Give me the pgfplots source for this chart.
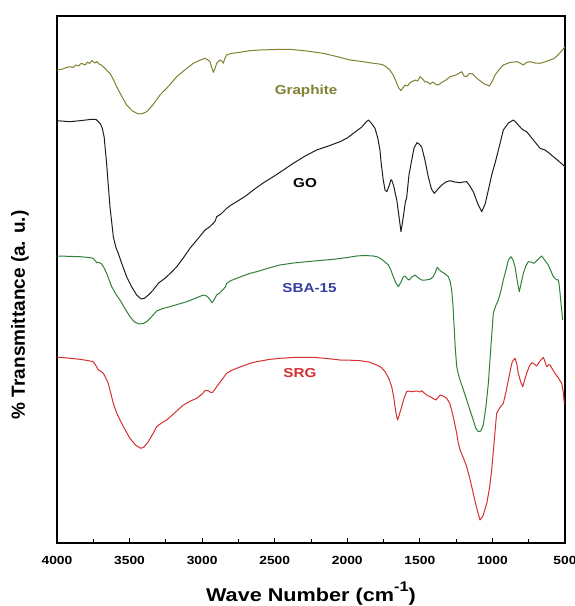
\documentclass[border=0pt]{standalone}
\usepackage{fontspec}
\setmainfont{Liberation Sans}[FakeStretch=1.17]
\newfontfamily\ylfont{Liberation Sans}
\usepackage{pgfplots}
\pgfplotsset{compat=1.18}

\definecolor{graphitecol}{RGB}{128,128,48}
\definecolor{gocol}{RGB}{30,30,30}
\definecolor{sbacol}{RGB}{48,128,58}
\definecolor{sbalabel}{RGB}{52,62,160}
\definecolor{srgcol}{RGB}{212,48,48}

\begin{document}
\begin{tikzpicture}
\useasboundingbox (-57pt,-63pt) rectangle (517pt,543pt);
\begin{axis}[
  scale only axis, width=508pt, height=527pt,
  xmin=500, xmax=4000, x dir=reverse,
  ymin=57, ymax=584,
  xtick={500,1000,...,4000}, minor x tick num=1,
  ytick=\empty, xtick pos=left,
  tick align=inside,
  major tick length=5pt, minor tick length=4pt,
  every tick/.style={black, line width=0.8pt},
  axis line style={line width=1.2pt},
  /pgf/number format/assume math mode=true,
  /pgf/number format/1000 sep={},
  xticklabel style={font=\fontsize{11.8}{12}\selectfont\bfseries, yshift=-9.5pt},
  xlabel={Wave Number (cm\raisebox{0.55em}{\fontsize{14}{14}\selectfont -1})},
  xlabel style={font=\fontsize{18.5}{20}\selectfont\bfseries,
    at={(axis description cs:0.5,-0.111)}, anchor=base},
  ylabel={\% Transmittance (a. u.)},
  ylabel style={font=\ylfont\fontsize{19}{20}\selectfont\bfseries,
    at={(axis description cs:-0.0728,0.433)}, anchor=center},
  every axis plot/.append style={line width=1pt, line join=round},
]
% Graphite
\addplot[graphitecol, mark=none] coordinates {
(4000,530) (3960,531) (3935,532.5) (3910,533.3) (3890,532.5) (3870,535) (3850,534)
(3835,536.5) (3819,536) (3805,535) (3790,538) (3775,536.5) (3760,539.5) (3750,538.3)
(3738,537) (3725,538.5) (3710,536) (3695,535) (3681,533.3) (3665,531) (3650,528.5)
(3635,526.7) (3610,520) (3589,513.3) (3555,504) (3520,495) (3480,489) (3440,486)
(3410,486.5) (3382,488.3) (3340,495) (3290,505) (3230,514) (3175,523.3) (3120,530)
(3061,536.7) (3020,539.5) (2980,541.7) (2955,539.5) (2946,538.3) (2935,533) (2923,527.7)
(2910,532) (2900,536.7) (2885,539) (2872,540) (2860,538) (2854,536.7) (2845,541)
(2831,545) (2800,546.5) (2762,547.3) (2670,549.3) (2601,550) (2500,550.5) (2395,550.7)
(2280,549) (2165,546.7) (2060,543) (1981,540) (1900,538.5) (1821,536.7) (1780,536)
(1752,535) (1730,533) (1706,530) (1680,524) (1659,516.7) (1645,512) (1630,509.3)
(1615,512.5) (1602,515) (1585,514) (1570,517) (1556,518.3) (1530,520) (1515,519)
(1499,523.3) (1480,521) (1465,518) (1453,518.3) (1430,516) (1410,518) (1390,515.5)
(1373,515) (1350,517.5) (1320,520) (1292,523.3) (1250,525) (1212,528.3) (1195,524)
(1177,523.3) (1160,526.5) (1136,526) (1110,522) (1086,519.3) (1055,516) (1021,514)
(1000,519) (982,525) (950,531) (925,535) (880,537.5) (833,538.3) (810,537) (787,535)
(765,537.5) (741,538.3) (705,537) (672,536.7) (640,538) (603,540) (575,541.5)
(555,544) (530,548) (500,553)
};
% GO
\addplot[gocol, mark=none] coordinates {
(4000,479.3) (3910,478.3) (3842,479.3) (3761,480.7) (3730,480.5) (3715,478.3) (3700,476)
(3688,471.7) (3675,463) (3669,453.3) (3660,440) (3653,426.7) (3635,393.3) (3612,363.3)
(3595,353) (3578,346.7) (3550,335) (3520,323.3) (3485,313) (3451,305) (3420,301)
(3398,301.7) (3370,305) (3337,310) (3300,317) (3256,321.7) (3210,328) (3175,333.3)
(3130,342) (3084,351.7) (3030,361) (2980,370) (2950,373) (2923,376.7) (2910,379)
(2900,383.3) (2870,386) (2831,391.7) (2800,395) (2762,398.3) (2700,404) (2647,410)
(2580,417) (2510,423.3) (2440,430) (2372,436.7) (2290,444) (2211,450) (2130,454)
(2050,458.3) (2000,462) (1958,466.7) (1900,473) (1870,478) (1855,480) (1835,477)
(1809,471.7) (1790,462) (1775,450) (1765,435) (1752,420) (1740,410) (1728,408.3)
(1712,414) (1700,420) (1694,420) (1680,414) (1667,405) (1659,400) (1645,385)
(1630,368.3) (1615,382) (1600,398) (1591,402) (1575,425) (1556,440) (1540,452)
(1520,457.3) (1505,456) (1487,453) (1465,440) (1442,423.3) (1420,411) (1400,406.7)
(1375,411) (1349,415) (1320,418) (1292,419.3) (1260,418) (1223,417.3) (1200,418)
(1177,418.3) (1155,414) (1132,408.3) (1100,396) (1074,388.3) (1050,396) (1028,410)
(1005,425) (982,436.7) (950,455) (925,470) (890,477) (856,480) (840,478) (822,475)
(800,471.5) (787,470) (764,468.3) (740,464) (718,460) (690,455) (672,451.7) (638,450)
(610,447) (580,443.3) (540,438.5) (500,433.3)
};
% SBA-15
\addplot[sbacol, mark=none] coordinates {
(4000,344) (3991,344) (3842,343.3) (3780,342.5) (3750,341.7) (3735,339) (3726,337.3)
(3710,337.5) (3692,336) (3675,332) (3658,326.7) (3623,313.3) (3595,306) (3566,300)
(3530,291) (3497,283.3) (3465,278) (3433,276) (3405,276.5) (3382,278.3) (3350,283)
(3313,289) (3270,291.5) (3221,293.3) (3160,296) (3106,298.3) (3050,301.5) (2992,305)
(2970,304) (2958,302.7) (2945,300) (2930,297.3) (2915,301) (2900,305) (2875,307.5)
(2854,310.7) (2840,313) (2831,316.7) (2800,319.5) (2762,321.7) (2670,326.7)
(2624,328.3) (2540,332) (2464,335) (2370,337) (2280,338.3) (2190,339.5) (2096,340.7)
(2000,342.5) (1935,344) (1880,344.5) (1821,344) (1790,343) (1763,340.7) (1740,338)
(1717,335) (1700,330) (1683,323.3) (1665,317) (1648,313.3) (1630,318) (1615,323)
(1602,324) (1585,321) (1573,320) (1555,323) (1533,325) (1510,322) (1487,320)
(1460,320) (1430,320.7) (1410,323) (1396,326.7) (1380,332.7) (1365,330) (1349,328.3)
(1325,326) (1304,323.3) (1290,318) (1281,310) (1272,295) (1265,276.7) (1256,252)
(1246,233.3) (1235,226) (1223,220) (1200,210) (1177,200) (1155,190) (1132,180)
(1115,172) (1097,168.3) (1080,169) (1063,175) (1045,193) (1028,216.7) (1012,250)
(994,286.7) (975,295) (959,300) (940,310) (925,320) (905,331) (890,340) (872,343.3)
(858,340) (844,333.3) (830,320) (815,308.3) (800,318) (787,326.7) (770,334)
(753,338.3) (735,338) (714,336.7) (690,340) (661,344) (640,340) (615,335) (597,329)
(580,323.3) (560,320.5) (546,320) (540,315) (534,306.7) (525,293) (516,280)
};
% SRG
\addplot[srgcol, mark=none] coordinates {
(4000,242.7) (3979,242.7) (3842,240.7) (3790,239.5) (3750,238.3) (3730,234) (3715,230)
(3700,229) (3681,226.7) (3665,222.5) (3647,216.7) (3630,207) (3612,196.7) (3590,187.5)
(3566,180) (3530,170) (3497,161.7) (3460,155) (3423,151.7) (3400,153) (3371,158.3)
(3340,166) (3313,173.3) (3280,177) (3244,180) (3190,187) (3130,195) (3080,199)
(3037,201.7) (3000,206) (2980,209.3) (2960,209.5) (2940,207.5) (2927,207.7)
(2913,210.5) (2900,213.3) (2865,220) (2831,226.7) (2800,229.5) (2762,231.7)
(2670,236.7) (2624,238.3) (2540,240.5) (2464,241.7) (2350,242.7) (2234,242.7)
(2140,241.5) (2050,240) (1980,239.8) (1912,239.3) (1850,238) (1797,235) (1765,232.5)
(1740,228.3) (1715,222) (1694,213.3) (1680,203) (1671,193.3) (1662,185) (1653,180)
(1640,186) (1625,193.3) (1608,202) (1591,208.3) (1570,209) (1556,208.3) (1520,209)
(1500,208) (1487,209.3) (1470,207) (1453,205) (1420,202.5) (1389,200) (1375,202.5)
(1361,205) (1340,204) (1315,201.7) (1295,197) (1281,190) (1265,180) (1246,166.7)
(1235,157) (1223,150) (1200,142) (1177,133.3) (1155,121) (1132,106.7) (1110,93)
(1086,80) (1065,84) (1039,96.7) (1020,112) (1005,130) (990,155) (971,186.7)
(950,192) (925,196.7) (908,207) (890,220) (875,231) (863,238.3) (844,241.7)
(832,236) (822,226.7) (805,218) (791,213.3) (778,220) (764,226.7) (745,234)
(729,237.3) (712,236) (695,234) (672,239) (649,242.7) (637,238) (626,233.3)
(610,235.5) (603,235) (585,230.5) (569,226.7) (545,222) (523,216.7) (512,208)
(505,196.7)
};
% Sample names
\node[text=graphitecol, font=\fontsize{13}{14}\selectfont\bfseries] at (axis cs:2284,509) {Graphite};
\node[text=black, font=\fontsize{13}{14}\selectfont\bfseries] at (axis cs:2291,417) {GO};
\node[text=sbalabel, font=\fontsize{13}{14}\selectfont\bfseries] at (axis cs:2260,312) {SBA-15};
\node[text=srgcol, font=\fontsize{13}{14}\selectfont\bfseries] at (axis cs:2326,227) {SRG};
\end{axis}
\end{tikzpicture}
\end{document}
